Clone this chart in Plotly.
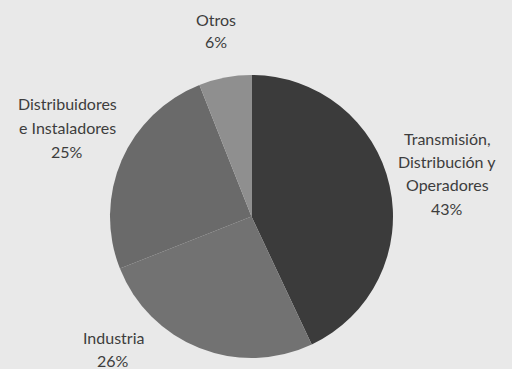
import plotly.graph_objects as go

W, H = 512, 369

categories = ["Transmisión, Distribución y Operadores", "Industria",
              "Distribuidores e Instaladores", "Otros"]
values = [43, 26, 25, 6]
colors = ["#3b3b3b", "#727272", "#6a6a6a", "#8f8f8f"]

# label lines (text) for each slice
label_lines = [
    ["Transmisión,", "Distribución y", "Operadores", "43%"],
    ["Industria", "26%"],
    ["Distribuidores", "e Instaladores", "25%"],
    ["Otros", "6%"],
]
# pixel positions (center x, first line y, line spacing)
label_pos = [(447, 138, 23.5), (113, 337, 23), (67, 104, 23.5), (216, 20, 21.5)]

fig = go.Figure(go.Pie(
    labels=categories, values=values, sort=False, direction="clockwise",
    rotation=0, textinfo="none", hoverinfo="label+percent",
    marker=dict(colors=colors, line=dict(width=0)),
    domain=dict(x=[110 / W, 393 / W], y=[1 - 358 / H, 1 - 75 / H]),
    showlegend=False,
))

annotations = []
for lines, (cx, y0, dy) in zip(label_lines, label_pos):
    for i, t in enumerate(lines):
        y = y0 + i * dy
        annotations.append(dict(
            text=t, x=cx / W, y=1 - y / H, xref="paper", yref="paper",
            xanchor="center", yanchor="middle", showarrow=False,
            font=dict(family="Lato", size=16, color="#3d3d3d"),
        ))

fig.update_layout(
    width=W, height=H, margin=dict(l=0, r=0, t=0, b=0),
    paper_bgcolor="#e9e9e9", plot_bgcolor="#e9e9e9",
    annotations=annotations,
)

fig.write_html(
    "out.html",
    config={"displayModeBar": False},
    post_script="document.body.style.margin='0';document.body.style.background='#e9e9e9';",
)
